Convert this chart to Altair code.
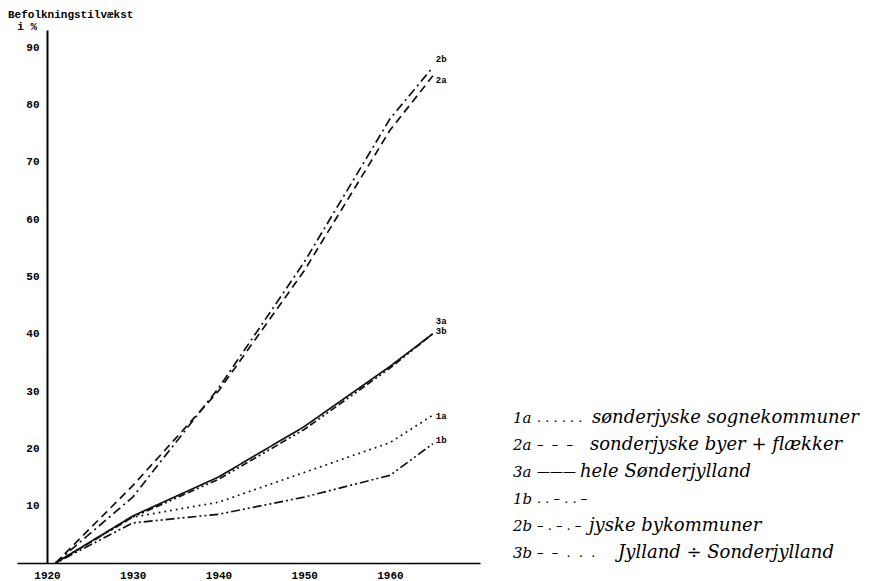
import altair as alt
import pandas as pd

# ---- data ----
years = [1921, 1930, 1940, 1950, 1960, 1965]
series_codes = ["1a", "2a", "3a", "1b", "2b", "3b"]
v_1a = [0, 8.0, 10.6, 15.8, 21.0, 25.8]
v_2a = [0, 13.5, 30.0, 51.0, 75.5, 85.0]
v_3a = [0, 8.2, 15.0, 23.8, 34.3, 40.0]
v_1b = [0, 7.0, 8.5, 11.5, 15.3, 20.8]
v_2b = [0, 11.5, 30.5, 52.5, 77.5, 86.5]
v_3b = [0, 8.0, 14.6, 23.3, 34.0, 40.0]
end_label_y = [25.6, 84.3, 42.3, 21.4, 88.0, 40.4]

x_ticks = [1920, 1930, 1940, 1950, 1960]
y_ticks = [10, 20, 30, 40, 50, 60, 70, 80, 90]

y_title = "Befolkningstilvækst"
y_unit = "i %"

NB = "\u00a0"
legend_codes = ["1a", "2a", "3a", "1b", "2b", "3b"]
legend_samples = [". . . . . .",
                  "–" + NB * 2 + "–" + NB * 2 + "–",
                  "———",
                  ". . – . . –",
                  "–" + NB + "." + NB + "–" + NB + "." + NB + "–",
                  "–" + NB * 2 + "–" + NB * 2 + "." + NB * 2 + "." + NB * 2 + "."]
legend_texts = ["sønderjyske sognekommuner", "sonderjyske byer + flækker",
                "hele Sønderjylland", "", "jyske bykommuner", "Jylland ÷ Sonderjylland"]

# ---- styles / layout ----
dashes = [[1.8, 4], [8, 5], [1, 0], [2, 3, 2, 3, 9, 3], [9, 4, 2, 4], [7, 3, 7, 3, 2, 3, 2, 3, 2, 3]]
legend_row_y = [388, 415, 442, 469, 496, 523]
legend_code_x = 496
legend_sample_x = 520
legend_text_x = [575, 573, 563, 563, 572, 601]

values = {"1a": v_1a, "2a": v_2a, "3a": v_3a, "1b": v_1b, "2b": v_2b, "3b": v_3b}
rows = []
for code in series_codes:
    for yr, v in zip(years, values[code]):
        rows.append({"series": code, "year": yr, "value": v})
df = pd.DataFrame(rows)

labels_df = pd.DataFrame({"series": series_codes,
                          "year": [years[-1]] * len(series_codes),
                          "value": end_label_y})

mono = "Liberation Mono"
serif = "DejaVu Serif"

x_enc = alt.X("year:Q",
              scale=alt.Scale(domain=[1916.5, 1970.5], nice=False, zero=False),
              axis=alt.Axis(values=x_ticks, format="d", title=None, ticks=False, grid=False,
                            labelPadding=6, domainColor="black", domainWidth=1.6,
                            labelFont=mono, labelFontSize=11, labelFontWeight="bold",
                            labelColor="black"))
y_enc = alt.Y("value:Q",
              scale=alt.Scale(domain=[0, 93], nice=False),
              axis=alt.Axis(values=y_ticks, title=None, ticks=False, grid=False,
                            offset=-30, labelPadding=8, domainColor="black", domainWidth=2,
                            labelFont=mono, labelFontSize=11, labelFontWeight="bold",
                            labelColor="black"))

lines = alt.Chart(df).mark_line(color="#111111", strokeWidth=1.7).encode(
    x=x_enc,
    y=y_enc,
    strokeDash=alt.StrokeDash("series:N",
                              scale=alt.Scale(domain=series_codes, range=dashes),
                              legend=None),
    detail="series:N",
)

end_labels = alt.Chart(labels_df).mark_text(
    align="left", baseline="middle", dx=3, font=mono, fontWeight="bold",
    fontSize=9, color="black"
).encode(x="year:Q", y="value:Q", text="series:N")

layers = [lines, end_labels]

one = pd.DataFrame({"k": [0]})


def txt(s, x, y, **kw):
    return alt.Chart(one).mark_text(baseline="middle", color="black", **kw).encode(
        x=alt.value(x), y=alt.value(y), text=alt.value(s))


layers.append(txt(y_title, -9, -15, align="left", font=mono, fontWeight="bold", fontSize=11))
layers.append(txt(y_unit, 20, -3, align="right", font=mono, fontWeight="bold", fontSize=11))

for i in range(len(legend_codes)):
    layers.append(txt(legend_codes[i], legend_code_x, legend_row_y[i], align="left",
                      font=serif, fontStyle="italic", fontSize=15))
    layers.append(txt(legend_samples[i], legend_sample_x, legend_row_y[i], align="left",
                      font=serif, fontStyle="italic", fontSize=13))
    if legend_texts[i]:
        layers.append(txt(legend_texts[i], legend_text_x[i], legend_row_y[i], align="left",
                          font=serif, fontStyle="italic", fontSize=18))

chart = alt.layer(*layers).properties(
    width=463, height=533,
    autosize=alt.AutoSizeParams(type="none"),
    padding={"left": 9, "top": 22, "right": 382, "bottom": 18},
    background="white",
).configure_view(stroke=None)

chart.save("out.html", embed_options={"renderer": "svg", "actions": False})
